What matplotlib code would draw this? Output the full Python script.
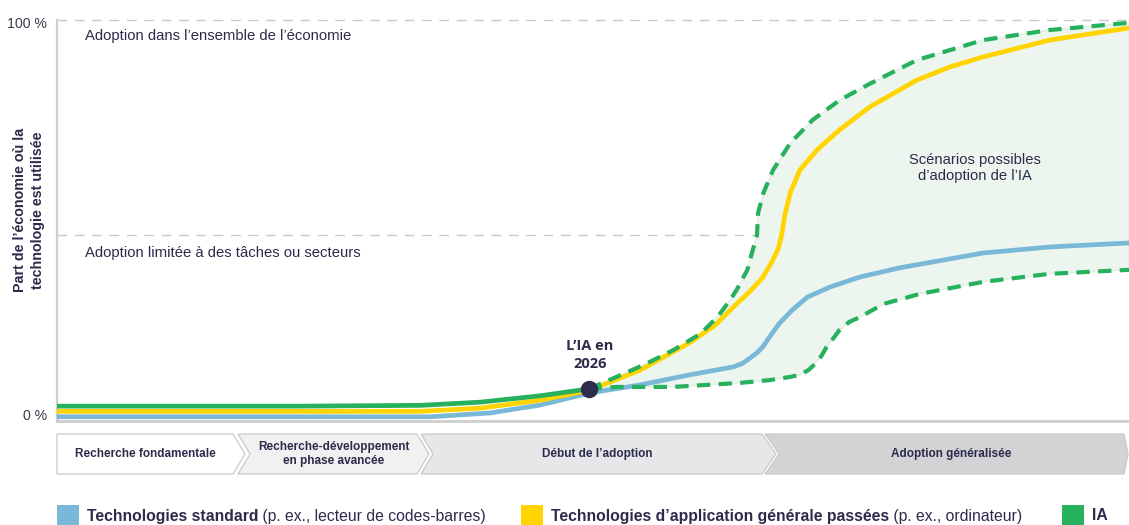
import matplotlib
matplotlib.use("Agg")
import matplotlib.pyplot as plt
from matplotlib.patches import Polygon, Rectangle
from matplotlib import font_manager

# ---------------- data ----------------
# x: conceptual time axis (0-100), y: share of the economy (0-100 %)
green_x = [0, 22.7, 33.9, 39.5, 45.1, 49.6]
green_y = [3.7, 3.7, 3.9, 4.7, 6.3, 8.0]

yellow_x = [0, 33.9, 39.5, 45.1, 49.7, 54.4, 59.0, 61.4, 63.2, 64.6, 65.8, 66.7, 67.3,
            67.6, 67.9, 68.4, 69.3, 70.9, 73.0, 75.8, 80.2, 83.3, 86.4, 92.6, 100]
yellow_y = [2.4, 2.4, 3.2, 5.2, 7.7, 12.7, 19.5, 23.9, 28.7, 32.2, 35.7, 39.7, 43.1,
            46.4, 51.4, 56.9, 62.6, 67.6, 72.6, 78.3, 85.0, 88.3, 90.8, 95.0, 98.0]

blue_x = [0, 34.8, 40.4, 45.1, 49.7, 54.4, 59.0, 63.1, 63.9, 64.6, 65.3, 65.9, 66.4,
          67.4, 68.6, 70.0, 72.1, 74.9, 78.6, 86.4, 92.6, 100]
blue_y = [1.05, 1.05, 2.0, 4.0, 7.0, 9.0, 11.5, 13.5, 14.3, 15.6, 17.0, 18.7, 20.7,
          24.4, 27.7, 30.9, 33.4, 35.9, 38.2, 41.9, 43.4, 44.4]

ai_high_x = [49.6, 52.2, 54.9, 57.5, 60.0, 61.6, 62.8, 63.4, 64.4, 64.9, 65.3, 65.4,
             65.9, 66.8, 68.4, 70.5, 73.0, 75.6, 80.2, 86.4, 92.6, 100]
ai_high_y = [8.0, 11.0, 14.2, 17.7, 21.7, 25.9, 30.2, 32.7, 37.7, 42.6, 46.4, 51.9,
             56.9, 62.6, 69.3, 75.1, 80.0, 83.8, 90.0, 95.0, 97.5, 99.3]

ai_low_x = [49.6, 52.2, 57.5, 63.7, 66.5, 68.4, 69.3, 70.1, 70.7, 71.3, 71.8, 72.5,
            73.0, 73.9, 74.9, 77.1, 80.5, 86.4, 92.6, 100]
ai_low_y = [8.0, 8.5, 8.5, 9.5, 10.2, 11.0, 11.5, 12.7, 14.2, 16.2, 18.5, 20.9,
            22.7, 24.7, 25.9, 29.2, 31.7, 34.7, 36.7, 37.7]

ai_2026 = (49.6, 8.0)
limited_level = 46.4          # "adoption limitée" threshold line
full_level = 100

ytick_labels = ["0 %", "100 %"]
ylabel = "Part de l\u2019économie où la\ntechnologie est utilisée"
zone_texts = ["Adoption dans l\u2019ensemble de l\u2019économie",
              "Adoption limitée à des tâches ou secteurs"]
scenario_text = "Scénarios possibles\nd\u2019adoption de l\u2019IA"
marker_text = "L\u2019IA en\n2026"

phases = ["Recherche fondamentale", "Recherche-développement\nen phase avancée",
          "Début de l\u2019adoption", "Adoption généralisée"]

legend_names = ["Technologies standard", "Technologies d\u2019application générale passées", "IA"]
legend_desc = [" (p. ex., lecteur de codes-barres)", " (p. ex., ordinateur)", ""]

# ---------------- style ----------------
BLUE = "#7ab8d8"
YELLOW = "#ffd400"
GREEN = "#27b15c"
FILL = "#ecf6ee"
NAVY = "#2d2b4b"
GRID = "#c9c9c9"

avail = {f.name for f in font_manager.fontManager.ttflist}
SANS = "Liberation Sans" if "Liberation Sans" in avail else "DejaVu Sans"
NARROW = "Liberation Sans Narrow" if "Liberation Sans Narrow" in avail else SANS
OPEN = "Open Sans" if "Open Sans" in avail else SANS
plt.rcParams["font.family"] = [SANS, "DejaVu Sans"]

W, H = 1129, 525
fig = plt.figure(figsize=(W / 100, H / 100), dpi=100)
ax = fig.add_axes([57 / W, 104 / H, 1072 / W, 401 / H])
ax.set_xlim(0, 100)
ax.set_ylim(0, 100)
ax.patch.set_alpha(0)

for s in ("top", "right"):
    ax.spines[s].set_visible(False)
ax.spines["left"].set_color("#cfcfcf")
ax.spines["left"].set_linewidth(1.6)
ax.spines["bottom"].set_color("#cdcdcd")
ax.spines["bottom"].set_linewidth(2.0)
ax.set_xticks([])
ax.set_yticks([1.5, 99.5])
ax.set_yticklabels(ytick_labels, fontsize=10.2, color="#3a3a4c")
ax.tick_params(axis="y", length=0, pad=7)

for lvl in (full_level, limited_level):
    ax.axhline(lvl, color=GRID, lw=1, dashes=(7, 5.5), clip_on=False, zorder=1)

# scenario band
band_x = ai_high_x + ai_low_x[::-1]
band_y = ai_high_y + ai_low_y[::-1]
ax.fill(band_x, band_y, facecolor=FILL, edgecolor="#dfeae2", lw=0.8, zorder=2)

kw = dict(lw=3.4, solid_capstyle="butt", solid_joinstyle="round", clip_on=False)
ax.plot(blue_x, blue_y, color=BLUE, zorder=3, **kw)
ax.plot(yellow_x, yellow_y, color=YELLOW, zorder=4, **kw)
ax.plot(green_x, green_y, color=GREEN, zorder=5, **kw)
for gx, gy in ((ai_high_x, ai_high_y), (ai_low_x, ai_low_y)):
    ax.plot(gx, gy, color=GREEN, lw=3, dashes=(3.2, 2.0), dash_capstyle="butt",
            dash_joinstyle="round", clip_on=False, zorder=5)
ax.plot(*ai_2026, "o", ms=11.5, color="#2e2d50", zorder=8, clip_on=False)

# ---------------- overlay in pixel coordinates ----------------
ov = fig.add_axes([0, 0, 1, 1], zorder=5)
ov.set_xlim(0, W)
ov.set_ylim(H, 0)
ov.axis("off")
ov.patch.set_alpha(0)

ov.text(29, 210, ylabel, rotation=90, ha="center", va="center", fontsize=10.3,
        fontweight="bold", color=NAVY, linespacing=1.3)
ov.text(85, 36, zone_texts[0], ha="left", va="center", fontsize=10.7, color=NAVY)
ov.text(85, 253, zone_texts[1], ha="left", va="center", fontsize=10.7, color=NAVY)
ov.text(975, 168, scenario_text, ha="center", va="center", fontsize=10.6, color=NAVY,
        linespacing=1.25)
ov.text(590, 355, marker_text, ha="center", va="center", fontsize=10.5, color=NAVY,
        fontweight="bold", family=[OPEN, "DejaVu Sans"], linespacing=1.3)

# phase chevrons
top, bot, mid = 434, 474, 454
chev = [(57, 233, 245, None), (238, 417, 429, 250), (421, 762, 776, 433), (765, 1124, 1128, 779)]
chev_fill = ["#ffffff", "#f1f1f2", "#e6e7e8", "#d2d3d5"]
for (x0, x1, tip, notch), fc, lab in zip(chev, chev_fill, phases):
    pts = [(x0, top), (x1, top), (tip, mid), (x1, bot), (x0, bot)]
    if notch is not None:
        pts.append((notch, mid))
    ov.add_patch(Polygon(pts, closed=True, facecolor=fc, edgecolor="#cacaca", lw=0.9))
    cx = ((notch if notch else x0) + x1) / 2
    ov.text(cx, mid, lab, ha="center", va="center", fontsize=8.5, fontweight="bold",
            color=NAVY, family=[NARROW, SANS], linespacing=1.15)

# legend
leg_x = [57, 521, 1062]
leg_col = [BLUE, YELLOW, GREEN]
for lx, c, name, desc in zip(leg_x, leg_col, legend_names, legend_desc):
    ov.add_patch(Rectangle((lx, 505), 22, 22, facecolor=c, edgecolor="none"))
    t = ov.text(lx + 30, 516, name, ha="left", va="center", fontsize=11.3,
                fontweight="bold", color=NAVY)
    if desc:
        ov.annotate(desc, xy=(1, 0.5), xycoords=t, ha="left", va="center",
                    fontsize=11.3, color=NAVY)

fig.savefig("out.png", dpi=100)
